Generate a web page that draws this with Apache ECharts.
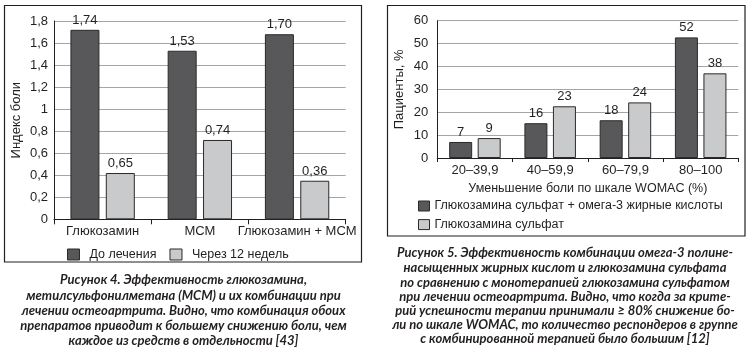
<!DOCTYPE html>
<html>
<head>
<meta charset="utf-8">
<script src="https://cdn.jsdelivr.net/npm/echarts@6/dist/echarts.min.js"></script>
<style>
html,body{margin:0;padding:0;background:#fff;}
#c{width:750px;height:362px;}
</style>
</head>
<body>
<div id="c"></div>
<script>
// ---- Left chart data ----
const leftCategories = ['Глюкозамин', 'МСМ', 'Глюкозамин + МСМ'];
const leftSeriesNames = ['До лечения', 'Через 12 недель'];
const leftBefore = [1.72, 1.53, 1.68];          // bar heights as drawn
const leftAfter = [0.42, 0.72, 0.35];
const leftBeforeLabels = ['1,74', '1,53', '1,70']; // printed value labels
const leftAfterLabels = ['0,65', '0,74', '0,36'];
const leftYTicks = ['0', '0,2', '0,4', '0,6', '0,8', '1', '1,2', '1,4', '1,6', '1,8'];
const leftYName = 'Индекс боли';

// ---- Right chart data ----
const rightCategories = ['20–39,9', '40–59,9', '60–79,9', '80–100'];
const rightSeriesNames = ['Глюкозамина сульфат + омега-3 жирные кислоты', 'Глюкозамина сульфат'];
const rightCombo = [7, 15.2, 16.5, 52.7];
const rightMono = [8.7, 22.6, 24.3, 37];
const rightComboLabels = ['7', '16', '18', '52'];
const rightMonoLabels = ['9', '23', '24', '38'];
const rightYTicks = ['0', '10', '20', '30', '40', '50', '60'];
const rightYName = 'Пациенты, %';
const rightXName = 'Уменьшение боли по шкале WOMAC (%)';

// ---- Captions ----
const leftCaption = [
  'Рисунок 4. Эффективность глюкозамина,',
  'метилсульфонилметана (МСМ) и их комбинации при',
  'лечении остеоартрита. Видно, что комбинация обоих',
  'препаратов приводит к большему снижению боли, чем',
  'каждое из средств в отдельности [43]'
];
const rightCaption = [
  'Рисунок 5. Эффективность комбинации омега-3 полине-',
  'насыщенных жирных кислот и глюкозамина сульфата',
  'по сравнению с монотерапией глюкозамина сульфатом',
  'при лечении остеоартрита. Видно, что когда за крите-',
  'рий успешности терапии принимали ≥ 80% снижение бо-',
  'ли по шкале WOMAC, то количество респондеров в группе',
  'с комбинированной терапией было большим [12]'
];

const INK = '#231f20';
const DARK = '#58585a';
const LIGHT = '#c9cacc';
const FONT = '"Liberation Sans", Arial, sans-serif';
const CAPFONT = 'italic bold 13px Lato, "Open Sans", sans-serif';

const chart = echarts.init(document.getElementById('c'), null, {renderer: 'canvas'});

const graphics = [
  {type: 'rect', shape: {x: 4.5, y: 5.5, width: 357, height: 256.5}, style: {fill: 'none', stroke: INK, lineWidth: 1.2}, silent: true},
  {type: 'rect', shape: {x: 387.5, y: 5.5, width: 357.5, height: 230.5}, style: {fill: 'none', stroke: INK, lineWidth: 1.2}, silent: true}
];
const leftCapY = [280, 295.7, 311, 326, 340.7];
leftCaption.forEach((t, i) => graphics.push({
  type: 'text', x: 183.5, y: leftCapY[i], silent: true,
  style: {text: t, font: CAPFONT, fill: INK, align: 'center', verticalAlign: 'middle'}
}));
const rightCapY = [253.3, 268.3, 282.7, 296.7, 311, 325, 339.3];
rightCaption.forEach((t, i) => graphics.push({
  type: 'text', x: 565, y: rightCapY[i], silent: true,
  style: {text: t, font: CAPFONT, fill: INK, align: 'center', verticalAlign: 'middle'}
}));

const barStyle = (c) => ({color: c, borderColor: '#2a2a2a', borderWidth: 1});
const lbl = (arr, size) => ({
  show: true, position: 'top', distance: 3, color: INK, fontFamily: FONT, fontSize: size,
  formatter: (p) => arr[p.dataIndex]
});

const option = {
  animation: false,
  backgroundColor: '#fff',
  textStyle: {fontFamily: FONT, color: INK},
  graphic: graphics,
  grid: [
    {left: 54, top: 21, width: 291.7, height: 198.3, outerBoundsMode: 'none', containLabel: false},
    {left: 437.3, top: 20.7, width: 301, height: 137.3, outerBoundsMode: 'none', containLabel: false}
  ],
  legend: [
    {
      data: leftSeriesNames, left: 67, top: 248, padding: 0, itemWidth: 12, itemHeight: 11, itemGap: 13,
      icon: 'rect', selectedMode: false,
      itemStyle: {borderColor: '#2a2a2a', borderWidth: 1},
      textStyle: {fontSize: 12.5, color: INK, fontFamily: FONT, padding: [0, 0, 0, 5]}
    },
    {
      data: rightSeriesNames, left: 418, top: 199, padding: 0, orient: 'vertical', itemWidth: 11, itemHeight: 10, itemGap: 4.6,
      icon: 'rect', selectedMode: false,
      itemStyle: {borderColor: '#2a2a2a', borderWidth: 1},
      textStyle: {fontSize: 12.5, color: INK, fontFamily: FONT, lineHeight: 14}
    }
  ],
  xAxis: [
    {
      type: 'category', gridIndex: 0, data: leftCategories,
      axisLine: {lineStyle: {color: INK, width: 1}},
      axisTick: {show: true, length: 5, lineStyle: {color: INK}},
      axisLabel: {color: INK, fontSize: 13, margin: 6, interval: 0}
    },
    {
      type: 'category', gridIndex: 1, data: rightCategories,
      name: rightXName, nameLocation: 'middle', nameGap: 24,
      nameTextStyle: {color: INK, fontSize: 12.5},
      axisLine: {lineStyle: {color: INK, width: 1}},
      axisTick: {show: true, length: 4, lineStyle: {color: INK}},
      axisLabel: {color: INK, fontSize: 13, margin: 6, interval: 0}
    }
  ],
  yAxis: [
    {
      type: 'value', gridIndex: 0, min: 0, max: 1.8, interval: 0.2,
      name: leftYName, nameLocation: 'middle', nameGap: 31, nameRotate: 90,
      nameTextStyle: {color: INK, fontSize: 13},
      axisLine: {show: true, lineStyle: {color: INK, width: 1}},
      axisTick: {show: false},
      splitLine: {show: true, lineStyle: {color: '#a5a5a5', width: 1}},
      axisLabel: {color: INK, fontSize: 13, margin: 6, formatter: (v, i) => leftYTicks[i]}
    },
    {
      type: 'value', gridIndex: 1, min: 0, max: 60, interval: 10,
      name: rightYName, nameLocation: 'middle', nameGap: 31, nameRotate: 90,
      nameTextStyle: {color: INK, fontSize: 13},
      axisLine: {show: true, lineStyle: {color: INK, width: 1}},
      axisTick: {show: false},
      splitLine: {show: true, lineStyle: {color: '#a5a5a5', width: 1}},
      axisLabel: {color: INK, fontSize: 13, margin: 9, formatter: (v, i) => rightYTicks[i]}
    }
  ],
  series: [
    {name: leftSeriesNames[0], type: 'bar', xAxisIndex: 0, yAxisIndex: 0, data: leftBefore,
     barWidth: 29, barGap: '22%', itemStyle: barStyle(DARK), label: lbl(leftBeforeLabels, 13)},
    {name: leftSeriesNames[1], type: 'bar', xAxisIndex: 0, yAxisIndex: 0, data: leftAfter,
     barWidth: 29, barGap: '22%', itemStyle: barStyle(LIGHT), label: lbl(leftAfterLabels, 13)},
    {name: rightSeriesNames[0], type: 'bar', xAxisIndex: 1, yAxisIndex: 1, data: rightCombo,
     barWidth: 23, barGap: '24%', itemStyle: barStyle(DARK), label: lbl(rightComboLabels, 13)},
    {name: rightSeriesNames[1], type: 'bar', xAxisIndex: 1, yAxisIndex: 1, data: rightMono,
     barWidth: 23, barGap: '24%', itemStyle: barStyle(LIGHT), label: lbl(rightMonoLabels, 13)}
  ]
};
chart.setOption(option);
</script>
</body>
</html>
